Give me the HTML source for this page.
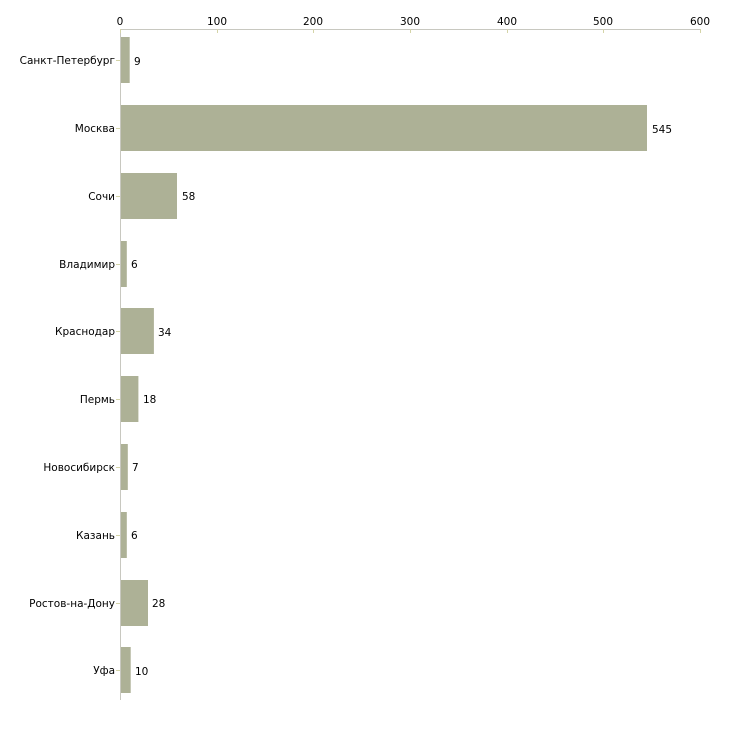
<!DOCTYPE html><html><head><style>body{margin:0;background:#fff}</style></head><body>
<svg width="730" height="730" xmlns="http://www.w3.org/2000/svg" font-family="DejaVu Sans, Verdana, sans-serif" font-size="10.5" fill="#000">
<line x1="120" y1="29.5" x2="700" y2="29.5" stroke="#c8c8c0"/>
<line x1="120.5" y1="29" x2="120.5" y2="700" stroke="#c8c8c0"/>
<g stroke="#d4d4a8">
<line x1="120.5" y1="29" x2="120.5" y2="33"/><line x1="217.5" y1="29" x2="217.5" y2="33"/><line x1="313.5" y1="29" x2="313.5" y2="33"/><line x1="410.5" y1="29" x2="410.5" y2="33"/><line x1="507.5" y1="29" x2="507.5" y2="33"/><line x1="603.5" y1="29" x2="603.5" y2="33"/><line x1="700.5" y1="29" x2="700.5" y2="33"/>
</g>
<g text-anchor="middle">
<text x="120" y="25">0</text><text x="217" y="25">100</text><text x="313" y="25">200</text><text x="410" y="25">300</text><text x="507" y="25">400</text><text x="603" y="25">500</text><text x="700" y="25">600</text>
</g>
<g fill="#adb196">
<rect x="121" y="37" width="8.7" height="46"/>
<rect x="121" y="105" width="526" height="46"/>
<rect x="121" y="173" width="56" height="46"/>
<rect x="121" y="241" width="5.8" height="46"/>
<rect x="121" y="308" width="32.9" height="46"/>
<rect x="121" y="376" width="17.4" height="46"/>
<rect x="121" y="444" width="6.8" height="46"/>
<rect x="121" y="512" width="5.8" height="46"/>
<rect x="121" y="580" width="27" height="46"/>
<rect x="121" y="647" width="9.7" height="46"/>
</g>
<g text-anchor="end">
<text x="115" y="64">Санкт-Петербург</text>
<text x="115" y="132">Москва</text>
<text x="115" y="200">Сочи</text>
<text x="115" y="268">Владимир</text>
<text x="115" y="335">Краснодар</text>
<text x="115" y="403">Пермь</text>
<text x="115" y="471">Новосибирск</text>
<text x="115" y="539">Казань</text>
<text x="115" y="607">Ростов-на-Дону</text>
<text x="115" y="674">Уфа</text>
</g>
<g stroke="#d4d4a8"><line x1="116" y1="60.5" x2="120" y2="60.5"/><line x1="116" y1="128.5" x2="120" y2="128.5"/><line x1="116" y1="196.5" x2="120" y2="196.5"/><line x1="116" y1="264.5" x2="120" y2="264.5"/><line x1="116" y1="331.5" x2="120" y2="331.5"/><line x1="116" y1="399.5" x2="120" y2="399.5"/><line x1="116" y1="467.5" x2="120" y2="467.5"/><line x1="116" y1="535.5" x2="120" y2="535.5"/><line x1="116" y1="603.5" x2="120" y2="603.5"/><line x1="116" y1="670.5" x2="120" y2="670.5"/></g>
<text x="134" y="65">9</text>
<text x="652" y="133">545</text>
<text x="182" y="200">58</text>
<text x="131" y="268">6</text>
<text x="158" y="336">34</text>
<text x="143" y="403">18</text>
<text x="132" y="471">7</text>
<text x="131" y="539">6</text>
<text x="152" y="607">28</text>
<text x="135" y="675">10</text>
</svg>
</body></html>
